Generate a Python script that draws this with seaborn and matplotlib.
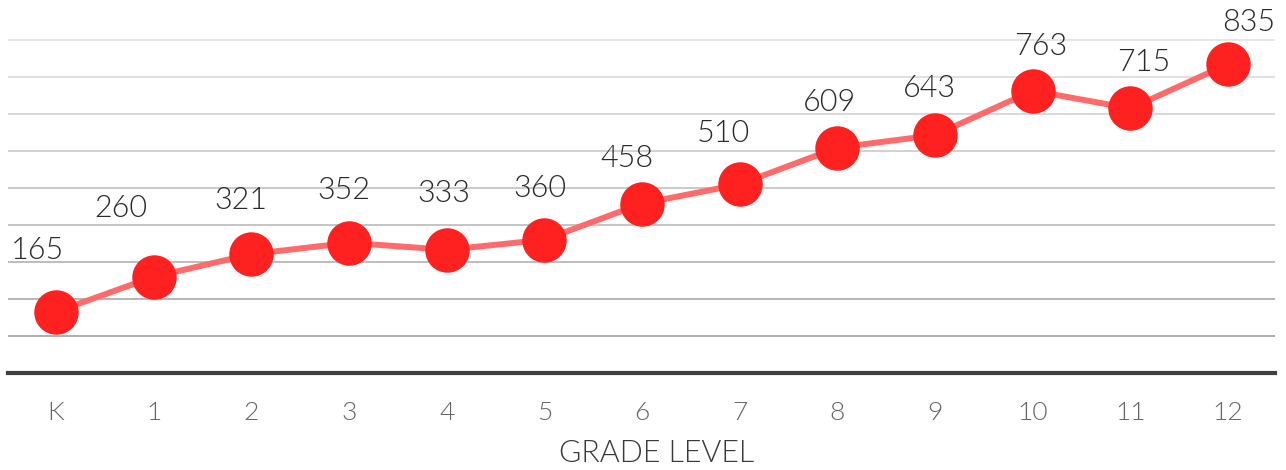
import matplotlib
matplotlib.use("Agg")
import matplotlib.pyplot as plt
import seaborn as sns
import pandas as pd
import numpy as np

grades = ["K", "1", "2", "3", "4", "5", "6", "7", "8", "9", "10", "11", "12"]
counts = [165, 260, 321, 352, 333, 360, 458, 510, 609, 643, 763, 715, 835]
# label nudges (pixels) so each value sits clear of the line
label_dx = [-18, -33, -10, -5, -3, -4, -15, -16, -8, -6, 8, 13, 21]
label_dy = [61, 68, 54, 52, 56, 51, 45, 51, 45, 47, 44, 46, 42]

sns.set_theme(style="white")
plt.rcParams["font.family"] = ["Lato", "DejaVu Sans"]
LIGHT = 300

df = pd.DataFrame({"pos": np.arange(len(grades)), "count": counts})

fig = plt.figure(figsize=(12.86, 4.70), dpi=100)
ax = fig.add_axes([8 / 1286, 97 / 470, 1267 / 1286, 370 / 470])

sns.lineplot(data=df, x="pos", y="count", ax=ax, color="#ff6b6b", linewidth=4.3,
             marker="o", markersize=32, markerfacecolor="#ff2020",
             markeredgewidth=0, zorder=3)

ax.set_xlim(-0.49, 12.48)
ax.set_ylim(0, 1000)
ax.set_yticks(range(100, 1000, 100))
ax.set_yticklabels([])
ax.tick_params(axis="y", length=0)
ax.grid(axis="y", linewidth=1.3)
ax.grid(axis="x", visible=False)
# gridlines fade from mid-grey at the bottom to pale grey at the top
lo = np.array([0xa8, 0xa8, 0xa8]) / 255
hi = np.array([0xe4, 0xe4, 0xe4]) / 255
for i, gl in enumerate(ax.yaxis.get_gridlines()):
    t = i / 8
    gl.set_color(tuple(lo + (hi - lo) * t))
    gl.set_zorder(0)

ax.set_xticks(range(len(grades)))
ax.set_xticklabels(grades, fontsize=19, color="#666666", fontweight=LIGHT)
ax.tick_params(axis="x", length=0, pad=20.5)

for s in ["top", "right", "left"]:
    ax.spines[s].set_visible(False)
ax.spines["bottom"].set_color("#404040")
ax.spines["bottom"].set_linewidth(3)

ax.set_xlabel("GRADE LEVEL", fontsize=22, color="#3a3a3a", fontweight=LIGHT, labelpad=10)
ax.xaxis.label.set_x(0.512)
ax.set_ylabel("")

for i, v in enumerate(counts):
    ax.annotate(str(v), (i, v), xytext=(label_dx[i], label_dy[i]),
                textcoords="offset pixels", ha="center", va="center",
                fontsize=22, color="#2a2a2a", fontweight=LIGHT)

fig.savefig("out.png", dpi=100)
